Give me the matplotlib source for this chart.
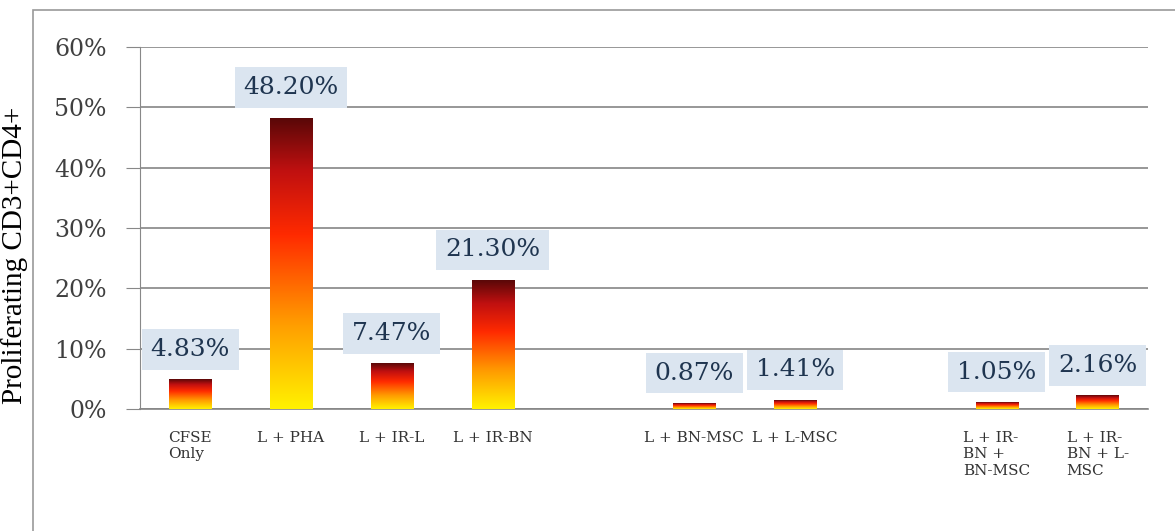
import numpy as np
import matplotlib
matplotlib.use("Agg")
import matplotlib.pyplot as plt
from matplotlib.colors import LinearSegmentedColormap
from matplotlib.patches import Rectangle

# data (blank slots are gaps in the original chart)
categories = ["CFSE\nOnly", "L + PHA", "L + IR-L", "L + IR-BN", "",
              "L + BN-MSC", "L + L-MSC", "",
              "L + IR-\nBN +\nBN-MSC", "L + IR-\nBN + L-\nMSC"]
values = [4.83, 48.20, 7.47, 21.30, None, 0.87, 1.41, None, 1.05, 2.16]
value_labels = ["4.83%", "48.20%", "7.47%", "21.30%", "", "0.87%", "1.41%", "",
                "1.05%", "2.16%"]
yticks = [0, 10, 20, 30, 40, 50, 60]

fire = LinearSegmentedColormap.from_list(
    "fire", [(0.0, "#fff200"), (0.3, "#ff9a00"), (0.6, "#ff2a00"),
             (0.82, "#c01010"), (1.0, "#5a0808")])

fig = plt.figure(figsize=(11.75, 5.31), dpi=100)
ax = fig.add_axes([0.119, 0.2298, 0.858, 0.6817])

# outer frame of the original picture
fig.patches.append(Rectangle((33 / 1175, -0.1), 1.2, 1 - 10 / 531 + 0.1,
                             transform=fig.transFigure, fill=False,
                             edgecolor="#9a9a9a", linewidth=1.2))

x = np.arange(len(categories))
width = 0.42
grad = np.linspace(0, 1, 256).reshape(-1, 1)

for xi, v, lab in zip(x, values, value_labels):
    if v is None:
        continue
    bars = ax.bar(xi, v, width=width, color="none", edgecolor="none", zorder=3)
    b = bars[0]
    ax.imshow(grad, cmap=fire, origin="lower", aspect="auto", zorder=3,
              extent=(b.get_x(), b.get_x() + b.get_width(), 0, v))
    ax.annotate(lab, (xi, v), xytext=(0, 22), textcoords="offset points",
                ha="center", va="center", fontsize=18, family="DejaVu Serif",
                color="#1f3550", zorder=5,
                bbox=dict(boxstyle="square,pad=0.35", fc="#dbe5f0", ec="none"))

ax.set_xlim(-0.5, len(categories) - 0.5)
ax.set_ylim(0, 60)
ax.set_yticks(yticks)
ax.set_yticklabels([f"{t}%" for t in yticks], fontsize=17,
                   family="DejaVu Serif", color="#404040")
ax.set_xticks(x)
ax.set_xticklabels(categories, fontsize=11, family="DejaVu Serif",
                   color="#333333", multialignment="left", va="top")
ax.tick_params(axis="x", length=0, pad=16)
ax.tick_params(axis="y", length=10, color="#888888", pad=14)

ax.yaxis.grid(True, color="#858585", linewidth=1.2)
ax.set_axisbelow(True)
for s in ["top", "right"]:
    ax.spines[s].set_visible(False)
ax.spines["left"].set_color("#888888")
ax.spines["bottom"].set_color("#858585")
ax.spines["bottom"].set_linewidth(1.2)

fig.text(15 / 1175, 1 - 255 / 531, "Proliferating CD3+CD4+", rotation=90,
         ha="center", va="center", fontsize=21, family="Liberation Serif")

fig.savefig("out.png", dpi=100)
